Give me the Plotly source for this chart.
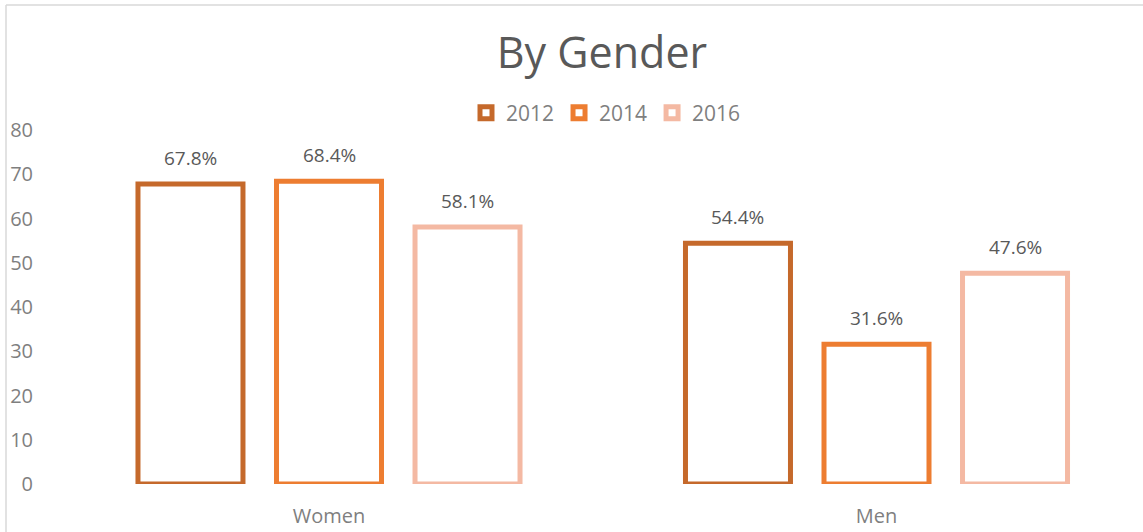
import plotly.graph_objects as go

categories = ["Women", "Men"]
years = ["2012", "2014", "2016"]
values_2012 = [67.8, 54.4]
values_2014 = [68.4, 31.6]
values_2016 = [58.1, 47.6]
y_ticks = [0, 10, 20, 30, 40, 50, 60, 70, 80]

series = [values_2012, values_2014, values_2016]
colors = ["#C5692B", "#ED7D31", "#F4B9A3"]

FONT = "Open Sans"
W, H = 1143, 532
L, R, T, B = 40, 0, 130, 48
bargap = 0.241
bargroupgap = 0.242
x_idx = list(range(len(categories)))

fig = go.Figure()
for name, vals, col in zip(years, series, colors):
    fig.add_trace(go.Bar(
        x=x_idx, y=vals, name=name,
        marker=dict(color="white", line=dict(color=col, width=5)),
    ))

slot = (1 - bargap) / len(series)
annotations = []
for j, vals in enumerate(series):
    for i, v in enumerate(vals):
        annotations.append(dict(
            x=i + (j - (len(series) - 1) / 2) * slot, y=v,
            xref="x", yref="y", text=f"{v:.1f}%", showarrow=False,
            yshift=26, font=dict(size=19, color="#595959", family=FONT),
        ))

pw = W - L - R
px_per_unit = 547.5
x0 = -(329 - L) / px_per_unit
x1 = x0 + pw / px_per_unit

ph = H - T - B
def px_to_paper_x(p):
    return (p - L) / pw
def px_to_paper_y(p):
    return (H - B - p) / ph

shapes = [
    dict(type="line", xref="paper", yref="paper",
         x0=px_to_paper_x(6), x1=px_to_paper_x(1160),
         y0=px_to_paper_y(5), y1=px_to_paper_y(5),
         line=dict(color="#D9D9D9", width=1.5)),
    dict(type="line", xref="paper", yref="paper",
         x0=px_to_paper_x(6), x1=px_to_paper_x(6),
         y0=px_to_paper_y(5), y1=px_to_paper_y(545),
         line=dict(color="#D9D9D9", width=1.5)),
]

fig.update_layout(
    width=W, height=H,
    margin=dict(l=L, r=R, t=T, b=B),
    paper_bgcolor="white", plot_bgcolor="white",
    barmode="group", bargap=bargap, bargroupgap=bargroupgap,
    font=dict(family=FONT, color="#7F7F7F", size=20),
    title=dict(text="By Gender", x=602 / W, xref="container", xanchor="center",
               y=1 - 53 / H, yanchor="middle", yref="container",
               font=dict(size=43, color="#595959", family=FONT)),
    legend=dict(orientation="h", x=px_to_paper_x(606), xanchor="center",
                y=px_to_paper_y(113), yanchor="middle",
                font=dict(size=21, color="#7F7F7F"), traceorder="normal",
                itemwidth=30),
    xaxis=dict(range=[x0, x1], tickvals=x_idx, ticktext=categories,
               showgrid=False, zeroline=False, showline=False, ticks="",
               ticklabelstandoff=18, tickfont=dict(size=20, color="#7F7F7F")),
    yaxis=dict(range=[0, 80], tickvals=y_ticks, showgrid=False,
               zeroline=False, showline=False, ticks="",
               ticklabelstandoff=6, tickfont=dict(size=20, color="#7F7F7F")),
    annotations=annotations,
    shapes=shapes,
)

fig.write_html("out.html", config={"displayModeBar": False},
               post_script="document.body.style.margin='0';document.body.style.padding='0';")
